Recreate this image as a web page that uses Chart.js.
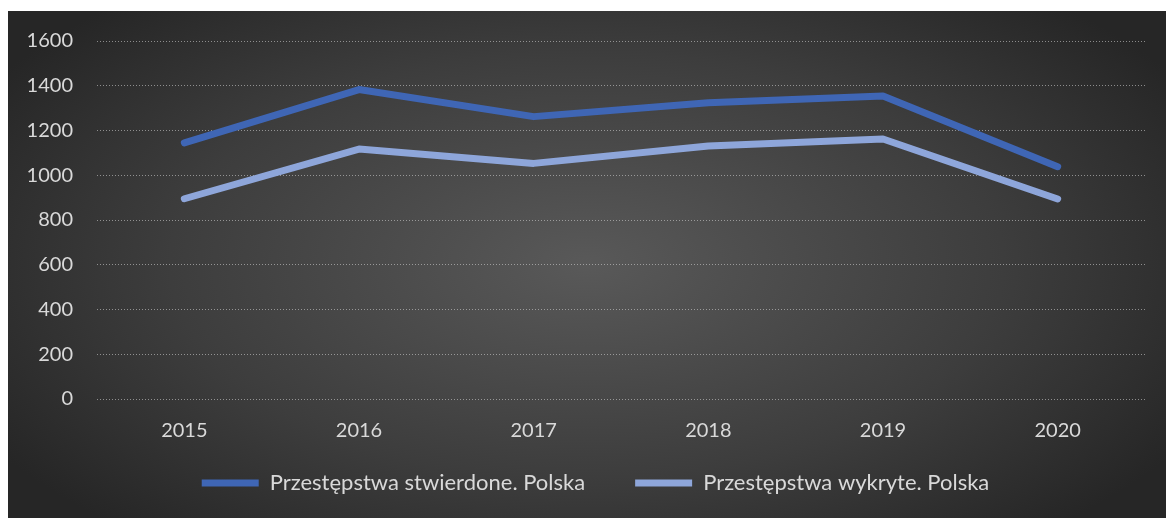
<!DOCTYPE html>
<html>
<head>
<meta charset="utf-8">
<script src="https://cdn.jsdelivr.net/npm/chart.js@4/dist/chart.umd.min.js"></script>
<style>
  html, body { margin: 0; padding: 0; background: #ffffff; }
  #box {
    position: absolute; left: 8px; top: 11px; width: 1158px; height: 507px;
    background: radial-gradient(ellipse 60% 70% at 50% 50%, #595959 0%, #3d3d3d 60%, #262626 100%);
  }
</style>
</head>
<body>
<div id="box"><canvas id="chart" width="1158" height="507"></canvas></div>
<script>
/* --------------- Data --------------------- */
const years = ["2015", "2016", "2017", "2018", "2019", "2020"];
const stwierdzone = [1145, 1383, 1262, 1324, 1354, 1038];
const wykryte = [895, 1117, 1053, 1131, 1162, 894];
const seriesNames = ["Przestępstwa stwierdone. Polska", "Przestępstwa wykryte. Polska"];

const textColor = "#d9d9d9";
Chart.defaults.font.family = "Lato";
Chart.defaults.font.size = 20;
Chart.defaults.color = textColor;

const gridLine = {
  color: "rgba(205,205,205,0.6)",
  lineWidth: 1,
  drawTicks: false,
};

// legend keeps its wide item spacing, but sits closer to the axis labels
const legendNudge = {
  id: "legendNudge",
  afterLayout(chart) {
    const lg = chart.legend;
    lg.top -= 33;
    lg.bottom -= 33;
    lg.left += 19;
    lg.right += 19;
  },
};

let chart = new Chart(document.getElementById("chart"), {
  type: "line",
  plugins: [legendNudge],
  data: {
    labels: years,
    datasets: [
      {
        label: seriesNames[0],
        data: stwierdzone,
        borderColor: "#3f66b5",
        backgroundColor: "#3f66b5",
        borderWidth: 7,
        borderCapStyle: "round",
        borderJoinStyle: "round",
        pointRadius: 0,
        tension: 0,
      },
      {
        label: seriesNames[1],
        data: wykryte,
        borderColor: "#8ea6da",
        backgroundColor: "#8ea6da",
        borderWidth: 7,
        borderCapStyle: "round",
        borderJoinStyle: "round",
        pointRadius: 0,
        tension: 0,
      },
    ],
  },
  options: {
    responsive: false,
    animation: false,
    layout: { padding: { left: 0, right: 21, top: 30, bottom: -19 } },
    plugins: {
      tooltip: { enabled: false },
      legend: {
        position: "bottom",
        labels: {
          usePointStyle: true,
          pointStyle: "line",
          pointStyleWidth: 57,
          boxHeight: 7,
          padding: 50,
          color: textColor,
          font: { size: 22 },
        },
      },
    },
    scales: {
      x: {
        offset: true,
        grid: { display: false, drawTicks: false },
        border: { display: false },
        ticks: { padding: 20 },
        afterFit: (scale) => { scale.height = 56; },
      },
      y: {
        min: 0,
        max: 1600,
        ticks: { stepSize: 200, padding: 24, callback: (v) => String(v) },
        grid: gridLine,
        border: { display: false, dash: [1, 2] },
        afterFit: (scale) => {
          scale.width = 89;
          scale.paddingTop = 0;
          scale.paddingBottom = 0;
        },
      },
    },
  },
});
</script>
</body>
</html>
